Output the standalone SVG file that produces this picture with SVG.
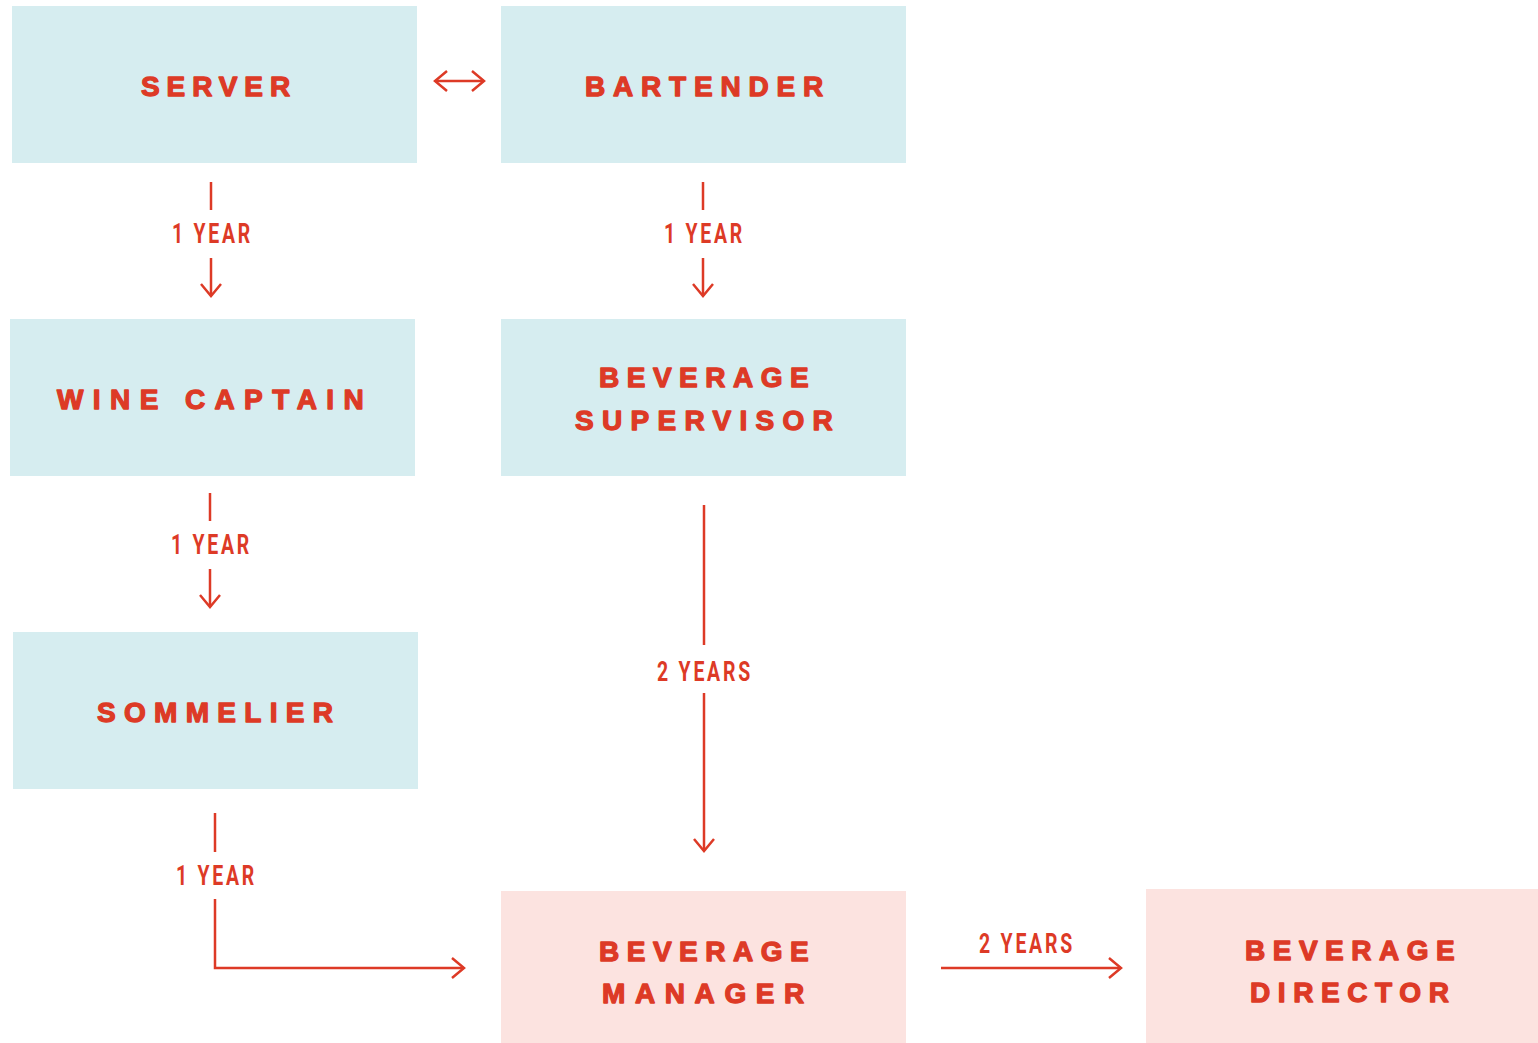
<svg xmlns="http://www.w3.org/2000/svg" width="1538" height="1043" viewBox="0 0 1538 1043">
<style>
.blue{fill:#d6edf0}
.pink{fill:#fce3e0}
.t{font-family:"Liberation Sans",Arial,sans-serif;font-weight:bold;font-size:28px;fill:#dd3a26;stroke:#dd3a26;stroke-width:1.3;stroke-linejoin:round}
.y{font-family:Roboto,"Liberation Sans",sans-serif;font-weight:700;font-size:28px;fill:#dd3a26;letter-spacing:4px}
.c{fill:none;stroke:#dd3a26;stroke-width:2.5}
</style>
<defs>
<marker id="ah" markerUnits="userSpaceOnUse" markerWidth="30" markerHeight="30" viewBox="-15 -15 30 30" refX="0" refY="0" orient="auto-start-reverse">
<path d="M-12,-10 L0,0 L-12,10" fill="none" stroke="#dd3a26" stroke-width="2.5"/>
</marker>
</defs>
<rect width="1538" height="1043" fill="#ffffff"/>
<g id="server"><rect class="blue" x="12" y="6" width="405" height="157"/><text class="t" x="141" y="96" letter-spacing="6.9">SERVER</text></g>
<g id="bartender"><rect class="blue" x="501" y="6" width="405" height="157"/><text class="t" x="585" y="96" letter-spacing="7.8">BARTENDER</text></g>
<g id="wine-captain"><rect class="blue" x="10" y="319" width="405" height="157"/><text class="t" x="57" y="409" letter-spacing="9.4">WINE CAPTAIN</text></g>
<g id="beverage-supervisor"><rect class="blue" x="501" y="319" width="405" height="157"/><text class="t" x="599" y="387" letter-spacing="7.5">BEVERAGE</text><text class="t" x="575" y="430" letter-spacing="8.3">SUPERVISOR</text></g>
<g id="sommelier"><rect class="blue" x="13" y="632" width="405" height="157"/><text class="t" x="97" y="722" letter-spacing="8.3">SOMMELIER</text></g>
<g id="beverage-manager"><rect class="pink" x="501" y="891" width="405" height="152"/><text class="t" x="599" y="961" letter-spacing="7.5">BEVERAGE</text><text class="t" x="602" y="1003" letter-spacing="9.6">MANAGER</text></g>
<g id="beverage-director"><rect class="pink" x="1146" y="889" width="392" height="154"/><text class="t" x="1245" y="960" letter-spacing="7.5">BEVERAGE</text><text class="t" x="1250" y="1002" letter-spacing="7.6">DIRECTOR</text></g>
<g id="connectors">
<line class="c" x1="435" y1="81" x2="484" y2="81" marker-start="url(#ah)" marker-end="url(#ah)"/>
<line class="c" x1="211" y1="182" x2="211" y2="210"/>
<text class="y" x="172" y="243" textLength="81" lengthAdjust="spacingAndGlyphs">1 YEAR</text>
<line class="c" x1="211" y1="258" x2="211" y2="296" marker-end="url(#ah)"/>
<line class="c" x1="703" y1="182" x2="703" y2="210"/>
<text class="y" x="664" y="243" textLength="81" lengthAdjust="spacingAndGlyphs">1 YEAR</text>
<line class="c" x1="703" y1="258" x2="703" y2="296" marker-end="url(#ah)"/>
<line class="c" x1="210" y1="493" x2="210" y2="521"/>
<text class="y" x="171" y="554" textLength="81" lengthAdjust="spacingAndGlyphs">1 YEAR</text>
<line class="c" x1="210" y1="569" x2="210" y2="607" marker-end="url(#ah)"/>
<line class="c" x1="704" y1="505" x2="704" y2="645"/>
<text class="y" x="657" y="681" textLength="96" lengthAdjust="spacingAndGlyphs">2 YEARS</text>
<line class="c" x1="704" y1="693" x2="704" y2="851" marker-end="url(#ah)"/>
<line class="c" x1="215" y1="813" x2="215" y2="852"/>
<text class="y" x="176" y="885" textLength="81" lengthAdjust="spacingAndGlyphs">1 YEAR</text>
<path class="c" d="M215,899 V968 H464" marker-end="url(#ah)"/>
<text class="y" x="979" y="953" textLength="96" lengthAdjust="spacingAndGlyphs">2 YEARS</text>
<line class="c" x1="941" y1="968" x2="1121" y2="968" marker-end="url(#ah)"/>
</g>
</svg>
